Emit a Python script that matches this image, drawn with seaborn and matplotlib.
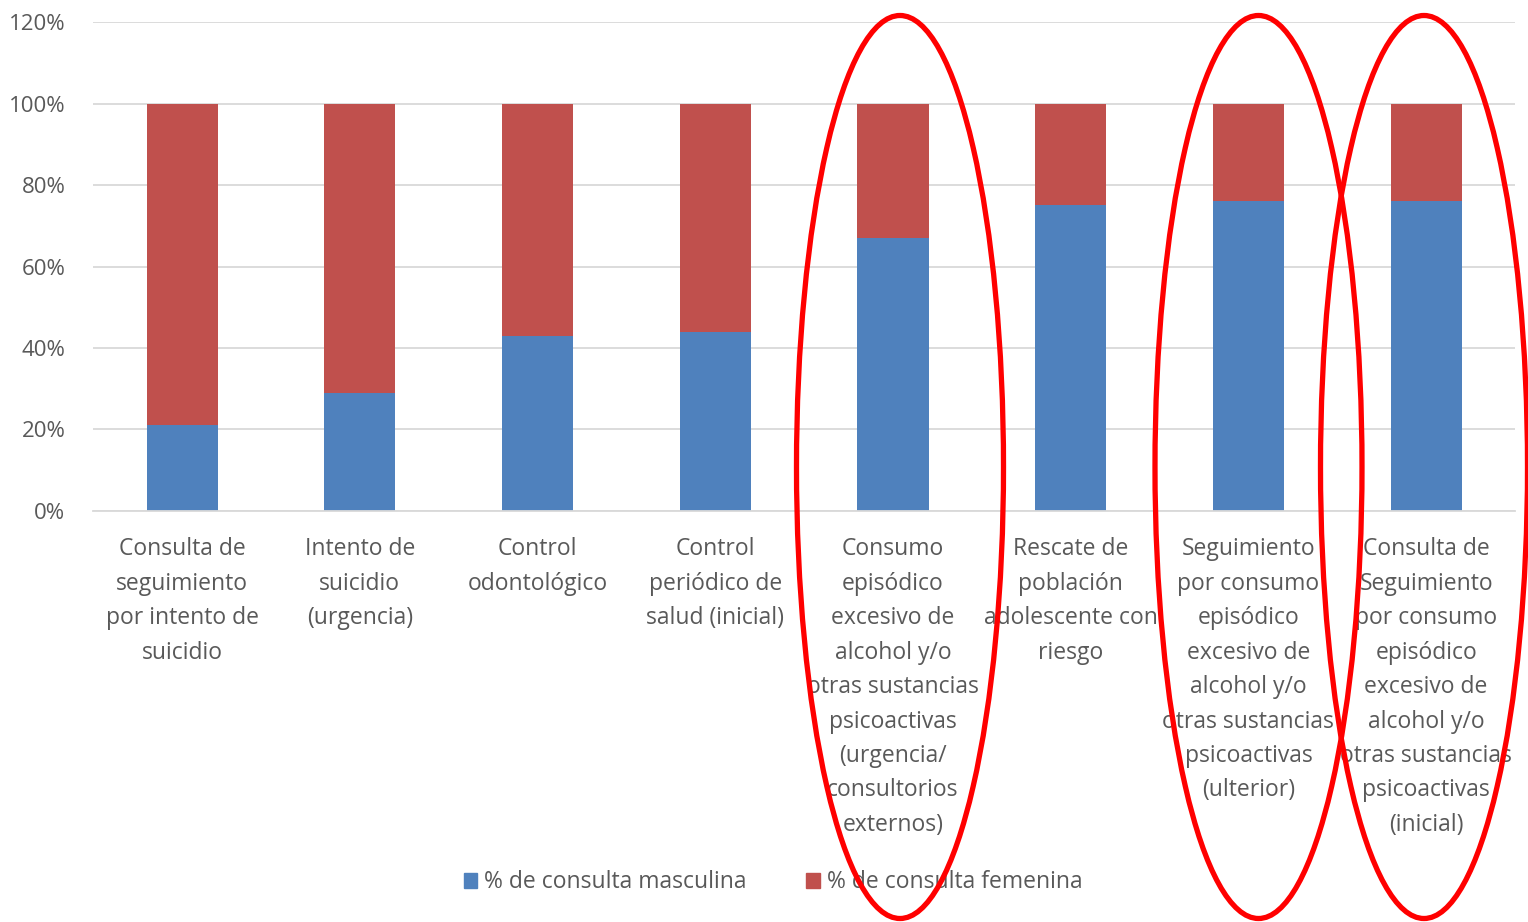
import pandas as pd
import matplotlib.pyplot as plt
import seaborn as sns
from matplotlib.patches import Ellipse, Patch
from matplotlib.ticker import PercentFormatter

# Data
categories = [
    'Consulta de\nseguimiento\npor intento de\nsuicidio',
    'Intento de\nsuicidio\n(urgencia)',
    'Control\nodontológico',
    'Control\nperiódico de\nsalud (inicial)',
    'Consumo\nepisódico\nexcesivo de\nalcohol y/o\notras sustancias\npsicoactivas\n(urgencia/\nconsultorios\nexternos)',
    'Rescate de\npoblación\nadolescente con\nriesgo',
    'Seguimiento\npor consumo\nepisódico\nexcesivo de\nalcohol y/o\notras sustancias\npsicoactivas\n(ulterior)',
    'Consulta de\nSeguimiento\npor consumo\nepisódico\nexcesivo de\nalcohol y/o\notras sustancias\npsicoactivas\n(inicial)',
]
masculina = [21, 29, 43, 44, 67, 75, 76, 76]
femenina = [100 - m for m in masculina]
y_ticks = [0, 20, 40, 60, 80, 100, 120]

blue = '#4F81BD'
red = '#C0504D'
gray = '#595959'

df = pd.DataFrame({'cat': categories, 'masc': masculina, 'fem': femenina})
df['total'] = df['masc'] + df['fem']

sns.set_style('white')
plt.rcParams['font.family'] = ['Open Sans', 'DejaVu Sans']

fig = plt.figure(figsize=(15.28, 9.22), dpi=100)
ax = fig.add_axes([0.061, 0.4458, 0.9305, 0.5302])

# stacked bars: total (red) first, then blue on top of it
sns.barplot(data=df, x='cat', y='total', color=red, width=0.4, ax=ax,
            saturation=1, linewidth=0)
sns.barplot(data=df, x='cat', y='masc', color=blue, width=0.4, ax=ax,
            saturation=1, linewidth=0)

ax.set_ylim(0, 120)
ax.set_xlim(-0.5, len(categories) - 0.5)
ax.set_yticks(y_ticks)
ax.yaxis.set_major_formatter(PercentFormatter(decimals=0))
ax.yaxis.grid(True, color='#D9D9D9', linewidth=1.3)
ax.set_axisbelow(True)
for s in ['top', 'right', 'left']:
    ax.spines[s].set_visible(False)
ax.spines['bottom'].set_color('#D9D9D9')
ax.spines['bottom'].set_linewidth(1.3)
ax.set_xlabel('')
ax.set_ylabel('')
ax.tick_params(axis='x', length=0, colors=gray, labelsize=16.5, pad=19)
ax.tick_params(axis='y', length=0, colors=gray, labelsize=16, pad=20)
for lbl in ax.get_xticklabels():
    lbl.set_linespacing(1.58)
    lbl.set_verticalalignment('top')

handles = [Patch(color=blue, label='% de consulta masculina'),
           Patch(color=red, label='% de consulta femenina')]
fig.legend(handles=handles, loc='center', bbox_to_anchor=(0.506, 0.043), ncol=2,
           frameon=False, fontsize=16.5, labelcolor=gray, handlelength=0.6,
           handleheight=0.6, handletextpad=0.3, columnspacing=2.6)

# red highlight ellipses
for cx in [900, 1258.5, 1424]:
    fig.add_artist(Ellipse((cx / 1528, 1 - 467 / 922), 207 / 1528, 903 / 922,
                           transform=fig.transFigure, fill=False,
                           edgecolor='#FF0000', linewidth=3.8, zorder=10))

plt.savefig('out.png', dpi=100)
